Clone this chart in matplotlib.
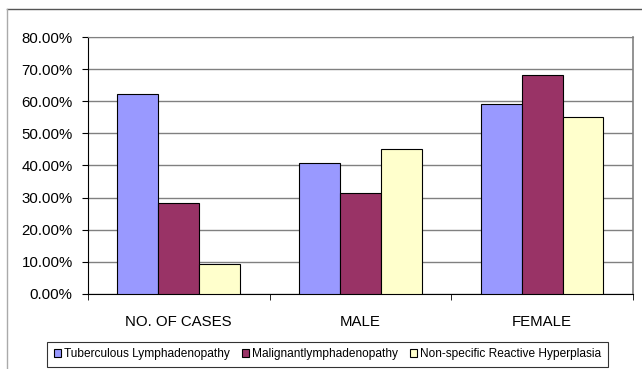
import matplotlib.pyplot as plt
import numpy as np
from matplotlib.lines import Line2D

plt.rcParams['font.family'] = ['Liberation Sans', 'DejaVu Sans']

categories = ['NO. OF CASES', 'MALE', 'FEMALE']
series_names = ['Tuberculous Lymphadenopathy', 'Malignantlymphadenopathy',
                'Non-specific Reactive Hyperplasia']
tuberculous = [62.3, 40.7, 59.0]
malignant = [28.2, 31.4, 68.3]
reactive = [9.3, 45.0, 55.1]
colors = ['#9999FF', '#993366', '#FFFFCC']
yticks = [0, 10, 20, 30, 40, 50, 60, 70, 80]

fig = plt.figure(figsize=(6.42, 3.69), dpi=100)
ax = fig.add_axes([0.137, 0.2033, 0.849, 0.6964])

x = np.arange(len(categories))
w = 0.225
for i, vals in enumerate([tuberculous, malignant, reactive]):
    ax.bar(x + (i - 1) * w, vals, w, color=colors[i], edgecolor='black',
           linewidth=0.8, label=series_names[i], zorder=3)

ax.set_xlim(-0.5, 2.5)
ax.set_ylim(0, 80)
ax.set_yticks(yticks)
ax.set_yticklabels(['%.2f%%' % v for v in yticks], fontsize=10.8)
ax.yaxis.grid(True, color='#808080', linewidth=1)
ax.set_axisbelow(True)

ax.set_xticks(x)
ax.set_xticklabels(categories, fontsize=10.8)
ax.set_xticks([-0.5, 0.5, 1.5, 2.5], minor=True)
ax.tick_params(axis='x', which='major', length=0, pad=15)
ax.tick_params(axis='x', which='minor', length=4, direction='out', color='black')
ax.tick_params(axis='y', length=4, pad=7, color='black')

ax.spines['left'].set_color('black')
ax.spines['bottom'].set_color('black')
ax.spines['top'].set_color('#808080')
ax.spines['right'].set_color('#808080')
ax.spines['right'].set_linewidth(1.2)

# outer chart border (top and left)
fig.add_artist(Line2D([7 / 642, 1], [1 - 9 / 369, 1 - 9 / 369],
                      transform=fig.transFigure, color='#555555', linewidth=1))
fig.add_artist(Line2D([7 / 642, 7 / 642], [0, 1 - 9 / 369],
                      transform=fig.transFigure, color='#aaaaaa', linewidth=1))

leg = fig.legend(loc='center', bbox_to_anchor=(0.51, 0.04), ncol=3,
                 fontsize=8.6, frameon=True, fancybox=False, edgecolor='black',
                 handlelength=0.6, handleheight=0.6, handletextpad=0.25,
                 columnspacing=1.0, borderpad=0.55)
leg.get_frame().set_linewidth(0.8)

fig.savefig('out.png', dpi=100)
